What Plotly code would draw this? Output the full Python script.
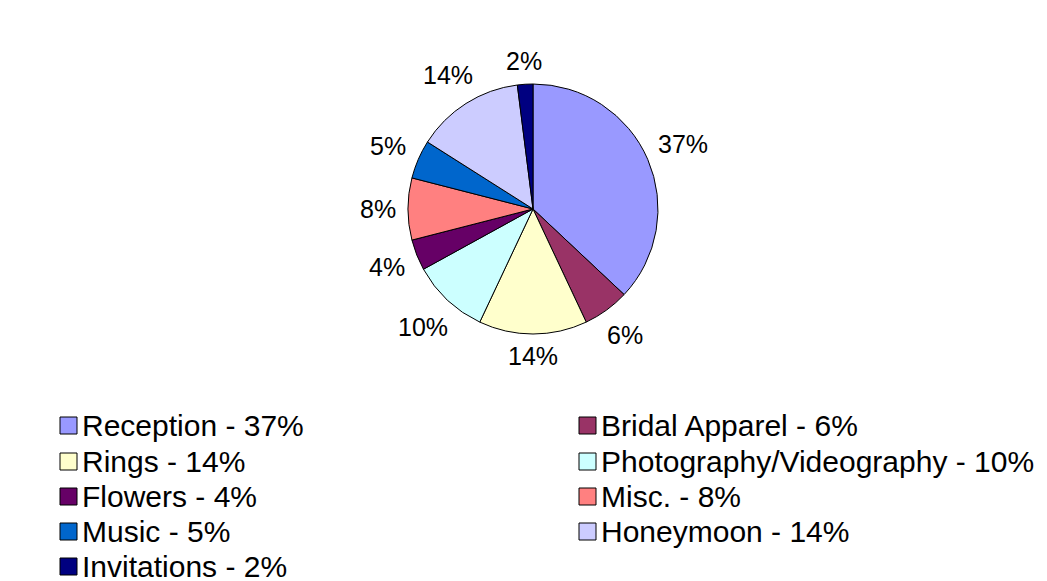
import math
import plotly.graph_objects as go

categories = ["Reception", "Bridal Apparel", "Rings", "Photography/Videography",
              "Flowers", "Misc.", "Music", "Honeymoon", "Invitations"]
values = [37, 6, 14, 10, 4, 8, 5, 14, 2]
colors = ["#9999FF", "#993366", "#FFFFCC", "#CCFFFF", "#660066",
          "#FF8080", "#0066CC", "#CCCCFF", "#000080"]

W, H = 1047, 581
OFF = 8  # page body margin offset
FONT = "Liberation Sans, Arial, sans-serif"
LBL = 25

cx, cy, R = 533 - OFF, 209 - OFF, 125
fig = go.Figure(go.Pie(
    labels=categories, values=values, sort=False, direction="clockwise", rotation=0,
    marker=dict(colors=colors, line=dict(color="black", width=1)),
    textinfo="none", showlegend=False, hoverinfo="label+percent",
    domain=dict(x=[(cx - R) / W, (cx + R) / W],
                y=[1 - (cy + R) / H, 1 - (cy - R) / H]),
))

shapes, annotations = [], []

# percentage labels outside each slice, placed along its mid-angle
total = sum(values)
cum = 0
for v in values:
    mid = (cum + v / 2) / total * 2 * math.pi
    cum += v
    sx, sy = math.sin(mid), -math.cos(mid)
    txt = f"{round(100 * v / total)}%"
    w = 0.556 * LBL * (len(txt) - 1) + 0.889 * LBL
    h = 20
    dist = R + 12 + abs(sx) * w / 2 + abs(sy) * h / 2
    px, py = cx + dist * sx, cy + dist * sy
    annotations.append(dict(xref="paper", yref="paper", x=px / W, y=1 - py / H,
                            xanchor="center", yanchor="middle", showarrow=False,
                            text=txt, font=dict(family=FONT, size=LBL, color="black")))

# legend drawn as two columns
col_x = [60 - OFF, 579 - OFF]
row_y = [425 - OFF, 461 - OFF, 496 - OFF, 531 - OFF, 566 - OFF]
for i, (cat, val, col) in enumerate(zip(categories, values, colors)):
    c = i % 2
    r = i // 2
    x0 = col_x[c]
    yc = row_y[r]
    shapes.append(dict(type="rect", xref="paper", yref="paper",
                       x0=x0 / W, x1=(x0 + 17) / W,
                       y0=1 - (yc + 9) / H, y1=1 - (yc - 8) / H,
                       fillcolor=col, line=dict(color="black", width=1)))
    annotations.append(dict(xref="paper", yref="paper", x=(x0 + 20) / W, y=1 - yc / H,
                            xanchor="left", yanchor="middle", showarrow=False,
                            text=f"{cat} - {val}%",
                            font=dict(family=FONT, size=30, color="black")))

fig.update_layout(width=W, height=H, margin=dict(l=0, r=0, t=0, b=0),
                  paper_bgcolor="white", plot_bgcolor="white",
                  shapes=shapes, annotations=annotations)
fig.write_html("out.html")
